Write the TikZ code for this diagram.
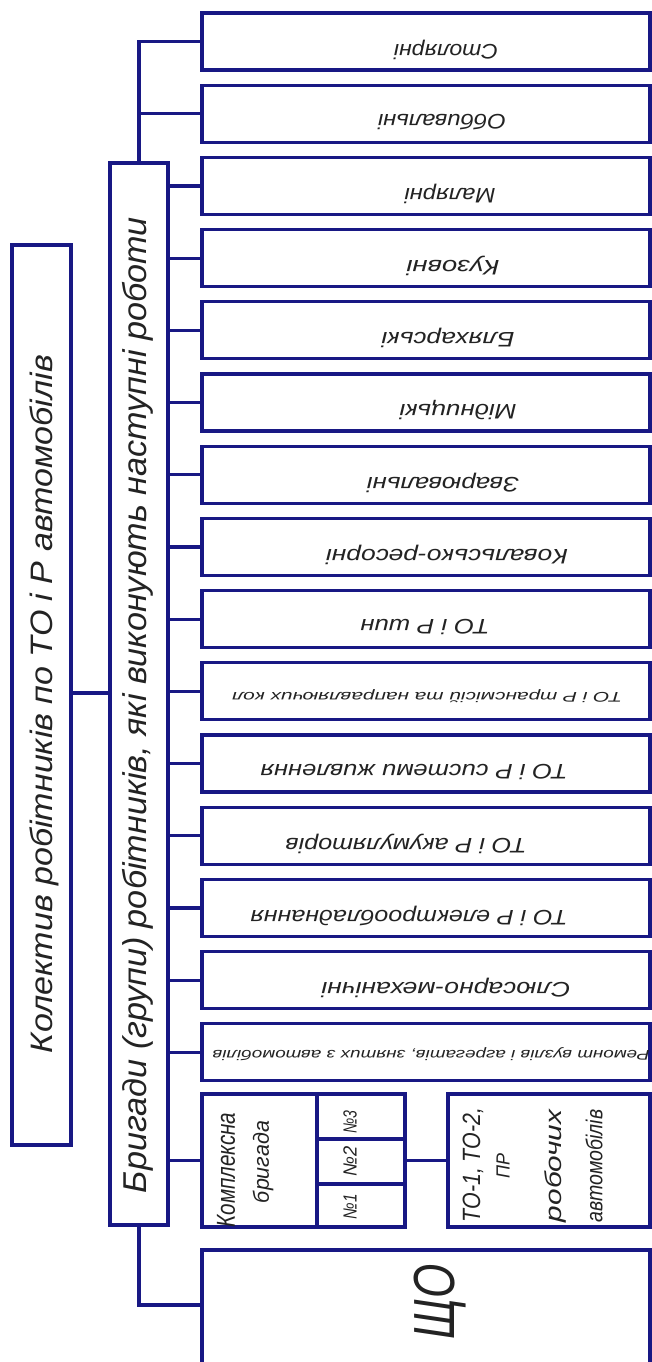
\documentclass[tikz,border=0pt]{standalone}
\usepackage{fontspec}
\setmainfont{Liberation Sans}
\usepackage{graphicx}
\definecolor{lc}{RGB}{24,24,132}
\definecolor{tc}{RGB}{35,35,35}
\newcommand\gtext[3]{\fontsize{#1}{#1}\selectfont\itshape\resizebox{#2pt}{\height}{#3}}
\begin{document}
\begin{tikzpicture}[x=1pt,y=-1pt,
  bx/.style={draw=lc,line width=3.2pt,inner sep=0pt,outer sep=0pt},
  ln/.style={draw=lc,line width=3.2pt},
  tx/.style={inner sep=0pt,text=tc}]
\useasboundingbox (0,0) rectangle (651,1362);
\fill[white] (0,0) rectangle (651,1362);
% left boxes
\node[bx,minimum width=59pt,minimum height=900pt] (A) at (41.5,695) {};
\node[tx,rotate=90] (At) at (44,704) {\gtext{31}{698}{Колектив робітників по ТО і Р автомобілів}};
\node[bx,minimum width=58pt,minimum height=1062pt] (B) at (139,694) {};
\node[tx,rotate=90] (Bt) at (138,705) {\gtext{33}{976}{Бригади (групи) робітників, які виконують наступні роботи}};
% right column boxes
\foreach \i in {1,...,15}
  \node[bx,minimum width=448pt,minimum height=57pt] (s\i) at (426,{41.5+72.2*(\i-1)}) {};
\foreach \i/\cx/\w/\fs/\dy/\t in {
  1/446/104/21/8/{Столярні},
  2/442/128/21/8/{Оббивальні},
  3/450/91/21/8/{Малярні},
  4/453/93/21/8/{Кузовні},
  5/448/133/21/8/{Бляхарські},
  6/458/117/21/8/{Мідницькі},
  7/443/152/21/8/{Зварювальні},
  8/447/242/21/8/{Ковальсько-ресорні},
  9/425/129/21/8/{ТО і Р шин},
  10/427/390/14/5/{ТО і Р трансмісій та направляючих кол},
  11/414/307/21/8/{ТО і Р системи живлення},
  12/406/241/21/8/{ТО і Р акумуляторів},
  13/409/317/21/8/{ТО і Р електрообладнання},
  14/446/249/21/8/{Слюсарно-механічні},
  15/431/437/14/2/{Ремонт вузлів і агрегатів, знятих з автомобілів}}
  \node[tx,rotate=180] (t\i) at (\cx,{41.5+\dy+72.2*(\i-1)}) {\gtext{\fs}{\w}{\t}};
% complex brigade box
\node[bx,minimum width=203pt,minimum height=133pt] (K) at (303.5,1160.5) {};
\coordinate (kd1) at (317,1094);
\coordinate (kd2) at (317,1227);
\coordinate (kh1) at (317,1139);
\coordinate (kh2) at (317,1184);
\draw[ln] (kd1) -- (kd2);
\draw[ln] (kh1) -- (kh1 -| K.east);
\draw[ln] (kh2) -- (kh2 -| K.east);
\node[tx,rotate=90] (Kt1) at (226,1170) {\gtext{26}{115}{Комплексна}};
\node[tx,rotate=90] (Kt2) at (263,1162) {\gtext{22}{82}{бригада}};
\node[tx,rotate=90] (N3) at (350,1122) {\gtext{19}{23}{№3}};
\node[tx,rotate=90] (N2) at (350,1161) {\gtext{19}{30}{№2}};
\node[tx,rotate=90] (N1) at (350,1207) {\gtext{19}{25}{№1}};
% TO box
\node[bx,minimum width=202pt,minimum height=133pt] (T) at (549,1160.5) {};
\node[tx,rotate=90] (Tt1) at (473,1165) {\gtext{25}{114}{ТО-1, ТО-2,}};
\node[tx,rotate=90] (Tt2) at (503,1166) {\gtext{19}{25}{ПР}};
\node[tx,rotate=90] (Tt3) at (555,1166) {\gtext{23}{112}{робочих}};
\node[tx,rotate=90] (Tt4) at (594,1166) {\gtext{23}{113}{автомобілів}};
% SHCHO box
\node[bx,minimum width=448pt,minimum height=122pt] (Q) at (426,1311) {};
\node[tx,rotate=90] (Qt) at (440,1302) {\gtext{58}{75}{ЩО}};
\coordinate (qc) at (202,1305);
% connectors
\draw[ln] (A.east |- 0,693) -- (B.west |- 0,693);
\draw[ln] (B.north) |- (s1.west);
\draw[ln] (B.north) |- (s2.west);
\foreach \i in {3,...,15}
  \draw[ln] (B.east |- s\i.west) -- (s\i.west);
\draw[ln] (B.east |- K.west) -- (K.west);
\draw[ln] (K.east) -- (T.west);
\draw[ln] (B.south) |- (qc);
\end{tikzpicture}
\end{document}
